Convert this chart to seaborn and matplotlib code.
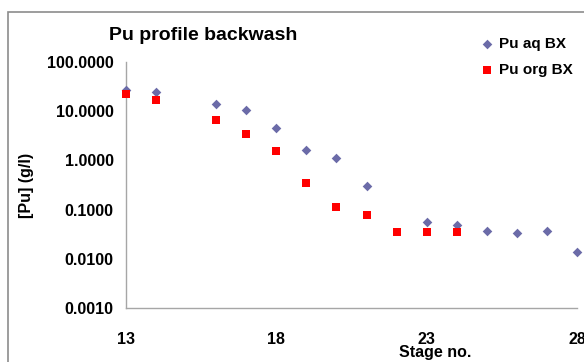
import matplotlib
matplotlib.use("Agg")
import matplotlib.pyplot as plt
from matplotlib.patches import Rectangle
import seaborn as sns
import pandas as pd

# Pu concentrations
stages_aq = [13, 14, 16, 17, 18, 19, 20, 21, 23, 24, 25, 26, 27, 28]
pu_aq = [26.7, 25.0, 14.0, 10.8, 4.6, 1.65, 1.13, 0.30, 0.056, 0.048, 0.037, 0.033, 0.037, 0.014]
stages_org = [13, 14, 16, 17, 18, 19, 20, 21, 22, 23, 24]
pu_org = [22.9, 16.7, 6.6, 3.5, 1.55, 0.35, 0.111, 0.077, 0.035, 0.035, 0.035]

y_ticks = [0.001, 0.01, 0.1, 1, 10, 100]
x_ticks = [13, 18, 23, 28]

df_aq = pd.DataFrame({"stage": stages_aq, "pu": pu_aq})
df_org = pd.DataFrame({"stage": stages_org, "pu": pu_org})

sns.set_theme(style="white", rc={"text.color": "black", "axes.labelcolor": "black",
                                 "xtick.color": "black", "ytick.color": "black"})
plt.rcParams["font.family"] = ["Liberation Sans", "DejaVu Sans"]
plt.rcParams["font.weight"] = "bold"

fig = plt.figure(figsize=(5.84, 3.62), dpi=100)
ax = fig.add_axes([0.2158, 0.1492, 0.988 - 0.2158, 0.8287 - 0.1492])

# outer chart frame (cut off on right/bottom like the original)
fig.patches.append(Rectangle((8 / 584, -0.1), 1.2, 1 - 12.5 / 362 + 0.1,
                             transform=fig.transFigure, fill=False,
                             edgecolor="#8c8c8c", linewidth=1.2))

sns.scatterplot(data=df_aq, x="stage", y="pu", marker="D", s=24, color="#6b6ba8",
                edgecolor="#6b6ba8", linewidth=0, label="Pu aq BX", ax=ax, clip_on=False, zorder=3)
sns.scatterplot(data=df_org, x="stage", y="pu", marker="s", s=40, color="#ff0000",
                edgecolor="#ff0000", linewidth=0, label="Pu org BX", ax=ax, clip_on=False, zorder=3)

ax.set_yscale("log")
ax.set_ylim(0.001, 100)
ax.set_xlim(13, 28)
ax.set_yticks(y_ticks)
ax.set_yticklabels([f"{v:.4f}" for v in y_ticks])
ax.minorticks_off()
ax.set_xticks(x_ticks)
ax.set_xticklabels([str(v) for v in x_ticks])

for side in ["top", "right"]:
    ax.spines[side].set_visible(False)
for side in ["left", "bottom"]:
    ax.spines[side].set_color("#a6a6a6")
    ax.spines[side].set_linewidth(1.0)
ax.tick_params(axis="both", colors="#a6a6a6", length=5, width=1, direction="out",
               labelcolor="black", labelsize=11.5)
ax.tick_params(axis="x", pad=12)
ax.tick_params(axis="y", pad=4)
for lbl in ax.get_xticklabels() + ax.get_yticklabels():
    lbl.set_fontweight("bold")

ax.set_xlabel("")
ax.set_ylabel("")
fig.text(435 / 584, 1 - 352 / 362, "Stage no.", ha="center", va="center",
         fontsize=11.5, fontweight="bold")
fig.text(27 / 584, 1 - 185 / 362, "[Pu] (g/l)", ha="center", va="center",
         rotation=90, fontsize=11.5, fontweight="bold")
fig.text(203 / 584, 1 - 36 / 362, "Pu profile backwash", ha="center", va="center",
         fontsize=14, fontweight="bold")

leg = ax.legend(loc="upper left", bbox_to_anchor=(473 / 584, 1 - 31 / 362),
                bbox_transform=fig.transFigure, frameon=False, fontsize=11,
                handletextpad=0.3, labelspacing=0.75, handlelength=1.0,
                borderaxespad=0)
for t in leg.get_texts():
    t.set_fontweight("bold")

fig.savefig("out.png", dpi=100)
